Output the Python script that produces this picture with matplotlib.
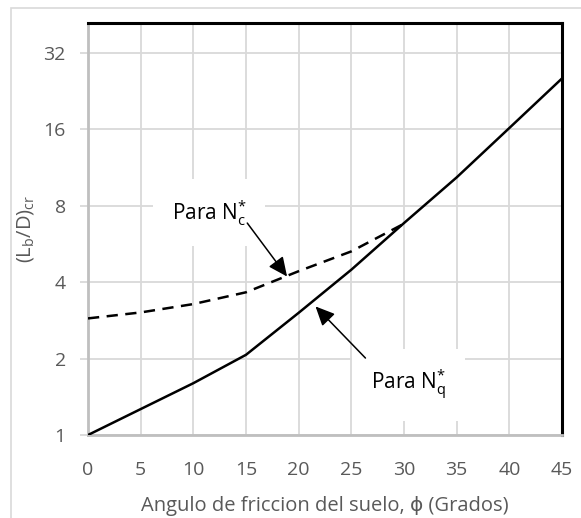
import matplotlib
matplotlib.use("Agg")
import matplotlib.pyplot as plt
from matplotlib.patches import Rectangle
from matplotlib.ticker import FixedLocator, FixedFormatter, NullLocator

# Data
phi_q = [0, 5, 10, 15, 20, 25, 30, 35, 40, 45]
nq_vals = [1.0, 1.265, 1.60, 2.07, 3.03, 4.48, 6.84, 10.35, 16.2, 25.4]
phi_c = [0, 5, 10, 15, 20, 25, 30]
nc_vals = [2.88, 3.04, 3.28, 3.65, 4.42, 5.29, 6.8]
x_ticks = [0, 5, 10, 15, 20, 25, 30, 35, 40, 45]
y_ticks = [1, 2, 4, 8, 16, 32]
y_tick_labels = ["1", "2", "4", "8", "16", "32"]

plt.rcParams['font.family'] = ['Open Sans', 'DejaVu Sans']
plt.rcParams['mathtext.fontset'] = 'custom'
plt.rcParams['mathtext.rm'] = 'Open Sans'

fig = plt.figure(figsize=(5.81, 5.18), dpi=100)
fig.patches.append(Rectangle((11/581, -0.1), 1.2, 1 - 8/518 + 0.1,
                             transform=fig.transFigure, fill=False,
                             ec='#d9d9d9', lw=1.2))
ax = fig.add_axes([88/581, 1 - 435/518, (562 - 88)/581, (435 - 23)/518])

ax.set_yscale('log', base=2)
ax.set_xlim(0, 45)
ax.set_ylim(1, 42)
ax.xaxis.set_major_locator(FixedLocator(x_ticks))
ax.yaxis.set_major_locator(FixedLocator(y_ticks))
ax.yaxis.set_major_formatter(FixedFormatter(y_tick_labels))
ax.yaxis.set_minor_locator(NullLocator())
ax.grid(True, color='#d9d9d9', lw=1.3, zorder=0)
ax.set_axisbelow(True)

ax.plot(phi_q, nq_vals, color='black', lw=1.8, zorder=3)
ax.plot(phi_c, nc_vals, color='black', lw=1.8, ls=(0, (4.5, 3)), zorder=3)

for s in ['top', 'right']:
    ax.spines[s].set_color('black')
    ax.spines[s].set_linewidth(2.2)
for s in ['left', 'bottom']:
    ax.spines[s].set_color('#bfbfbf')
    ax.spines[s].set_linewidth(2.0)

ax.tick_params(axis='y', length=6, width=1.3, color='#d9d9d9', pad=10,
               labelsize=14, labelcolor='#595959')
ax.tick_params(axis='x', length=0, pad=19, labelsize=14, labelcolor='#595959')

ax.set_xlabel('Angulo de friccion del suelo, ϕ (Grados)', fontsize=14.5,
              color='#595959', labelpad=12)
ax.set_ylabel(r'(L$_\mathregular{b}$/D)$_\mathregular{cr}$', fontsize=14.5,
              color='#595959', labelpad=5)

box = dict(boxstyle='square,pad=0.9', fc='white', ec='none')
ax.text(11.5, 7.5, r'Para N$_\mathregular{c}^\mathregular{*}$', fontsize=15,
        ha='center', va='center', bbox=box, zorder=2)
ax.text(30.4, 1.575, r'Para N$_\mathregular{q}^\mathregular{*}$', fontsize=15,
        ha='center', va='center', bbox=box, zorder=2)

arrow = dict(arrowstyle='-|>,head_length=0.65,head_width=0.3', lw=1.1,
             color='black', shrinkA=0, shrinkB=0, mutation_scale=18)
ax.annotate('', xy=(18.9, 4.21), xytext=(15.12, 6.84), arrowprops=arrow, zorder=4)
ax.annotate('', xy=(21.6, 3.21), xytext=(26.34, 2.01), arrowprops=arrow, zorder=4)

fig.savefig('out.png', dpi=100)
